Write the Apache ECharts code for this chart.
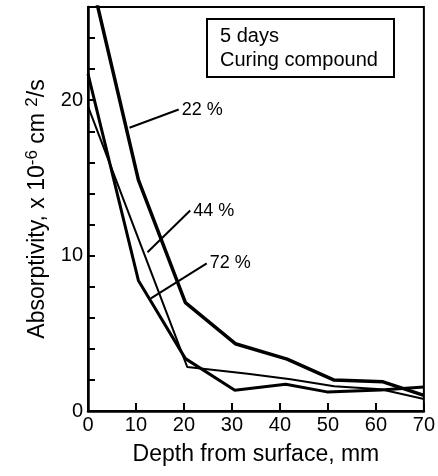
<!DOCTYPE html>
<html><head><meta charset="utf-8">
<script src="https://cdn.jsdelivr.net/npm/echarts@6/dist/echarts.min.js"></script>
<style>html,body{margin:0;padding:0;background:#fff}#c{width:438px;height:476px}</style>
</head><body><div id="c"></div>
<script>
// Data (depth in mm, absorptivity x10^-6 cm^2/s)
const depth22 = [0, 10.5, 20.3, 30.7, 41.5, 51.3, 61.5, 70];
const abs22   = [28.7, 14.87, 6.97, 4.33, 3.34, 1.99, 1.88, 1.0];
const depth44 = [0, 20.7, 33.3, 42.2, 51.3, 61, 70];
const abs44   = [19.6, 2.83, 2.4, 2.04, 1.6, 1.4, 0.77];
const depth72 = [0, 10.5, 20.3, 30.6, 41.2, 49.8, 61, 70];
const abs72   = [21.7, 8.4, 3.37, 1.33, 1.72, 1.23, 1.35, 1.55];
const seriesNames = ['22 %', '44 %', '72 %'];
const yLabelValues = [0, 10, 20];
// annotation pointers [start, end] in data coordinates
const pointer22 = [[8.64, 18.23], [18.9, 19.4]];
const pointer44 = [[12.4, 10.22], [21.3, 12.9]];
const pointer72 = [[13.1, 7.25], [24.75, 9.5]];
const boxText = '5 days\nCuring compound';

const FONT = 'Liberation Sans, Arial, sans-serif';
const zip = (xs, ys) => xs.map((x, i) => [x, ys[i]]);

function mkSeries(name, xs, ys, width, pointer) {
  return {
    name, type: 'line', data: zip(xs, ys), symbol: 'none', clip: true,
    lineStyle: { color: '#000', width: width },
    markLine: {
      silent: true, symbol: ['none', 'none'], animation: false,
      lineStyle: { color: '#000', width: 2, type: 'solid' },
      label: { show: false },
      data: [[{ coord: pointer[0] }, { coord: pointer[1] }]]
    },
    markPoint: {
      silent: true, symbol: 'circle', symbolSize: 0, animation: false,
      itemStyle: { color: 'rgba(0,0,0,0)' },
      label: { show: true, position: 'right', distance: 3, color: '#000',
               fontFamily: FONT, fontSize: 18, formatter: name },
      data: [{ coord: pointer[1] }]
    }
  };
}

const chart = echarts.init(document.getElementById('c'));
chart.setOption({
  animation: false,
  backgroundColor: '#fff',
  title: {
    text: boxText, left: 207, top: 19,
    borderColor: '#000', borderWidth: 2, padding: [5, 16, 5, 13],
    textStyle: { fontFamily: FONT, fontSize: 20, fontWeight: 'normal', color: '#000', lineHeight: 24 }
  },
  grid: { left: 88, right: 8, top: 7, bottom: 65, show: true, borderColor: '#000', borderWidth: 2, backgroundColor: 'transparent' },
  xAxis: {
    type: 'value', min: 0, max: 70, interval: 10,
    name: 'Depth from surface, mm', nameLocation: 'middle', nameGap: 32,
    nameTextStyle: { fontFamily: FONT, fontSize: 23, color: '#000' },
    axisLine: { lineStyle: { color: '#000', width: 2.5 } },
    axisTick: { inside: true, length: 8, lineStyle: { color: '#000', width: 2 } },
    axisLabel: { fontFamily: FONT, fontSize: 20, color: '#000', margin: 4 },
    splitLine: { show: false }
  },
  yAxis: {
    type: 'value', min: 0, max: 26, interval: 2,
    name: 'Absorptivity, x 10{sup|-6} cm {sup|2}/s', nameLocation: 'middle', nameGap: 37,
    nameTextStyle: { fontFamily: FONT, fontSize: 23, color: '#000',
      rich: { sup: { fontFamily: FONT, fontSize: 17, color: '#000', verticalAlign: 'bottom', padding: [0, 0, 10, 0] } } },
    axisLine: { lineStyle: { color: '#000', width: 2.5 } },
    axisTick: { inside: true, length: 7, lineStyle: { color: '#000', width: 2 } },
    axisLabel: { fontFamily: FONT, fontSize: 20, color: '#000', margin: 5,
      formatter: v => (yLabelValues.indexOf(v) >= 0 ? String(v) : '') },
    splitLine: { show: false }
  },
  series: [
    mkSeries(seriesNames[0], depth22, abs22, 3.5, pointer22),
    mkSeries(seriesNames[1], depth44, abs44, 2, pointer44),
    mkSeries(seriesNames[2], depth72, abs72, 3, pointer72)
  ]
});
</script></body></html>
